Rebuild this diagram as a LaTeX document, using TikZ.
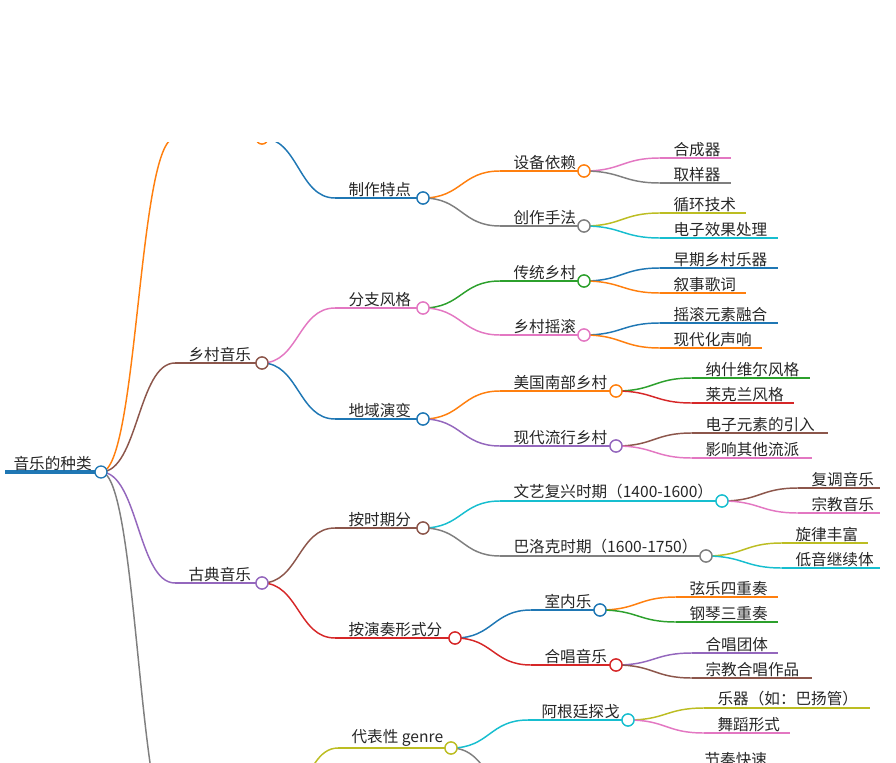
\documentclass[tikz,border=0pt]{standalone}
\usepackage{fontspec}
\setmainfont{Noto Sans CJK SC}
\usetikzlibrary{calc}
\definecolor{cBlue}{HTML}{1F77B4}
\definecolor{cOrange}{HTML}{FF7F0E}
\definecolor{cGreen}{HTML}{2CA02C}
\definecolor{cRed}{HTML}{D62728}
\definecolor{cPurple}{HTML}{9467BD}
\definecolor{cBrown}{HTML}{8C564B}
\definecolor{cPink}{HTML}{E377C2}
\definecolor{cGray}{HTML}{7F7F7F}
\definecolor{cOlive}{HTML}{BCBD22}
\definecolor{cCyan}{HTML}{17BECF}
\tikzset{
  ul/.style = {line width=1.1pt},
  br/.style = {line width=1.1pt},
  lbl/.style = {inner sep=1pt, font=\fontsize{11.7}{13}\selectfont, text=black!85},
  dot/.style = {circle, fill=white, line width=1pt, minimum size=9pt, inner sep=0pt}
}
% inner node: name, x1, x2 (circle), y, colour, text
\newcommand\inode[6]{%
  \coordinate (#1-in) at (#2,#4);
  \draw[ul,#5] (#2,#4) -- (#3,#4);
  \node[lbl,anchor=south west] (#1-t) at (#2+12,#4) {#6};
  \node[dot,draw=#5] (#1) at (#3,#4) {};}
% leaf node: name, x1, x2, y, colour, text
\newcommand\leaf[6]{%
  \coordinate (#1-in) at (#2,#4);
  \draw[ul,#5] (#2,#4) -- (#3,#4);
  \node[lbl,anchor=south west] (#1) at (#2+12,#4) {#6};}
% connector: parent, child, colour
\newcommand\link[3]{%
  \draw[br,#3] let \p1=(#1.center), \p2=(#2-in) in
    (\p1) .. controls ({(\x1+\x2)/2},\y1) and ({(\x1+\x2)/2},\y2) .. (\p2);}

\begin{document}
\begin{tikzpicture}[x=0.75pt,y=-0.75pt]
\useasboundingbox (0,0) rectangle (896,763);
\clip (0,143) rectangle (896,763);

% root
\draw[cBlue,line width=2.6pt] (5,472) -- (101,472);
\node[lbl,anchor=south west] (root-t) at (12,472) {音乐的种类};

% level 1
\inode{elec}{175}{262}{138}{cOrange}{}
\inode{country}{175}{262}{363}{cBrown}{乡村音乐}
\inode{classic}{175}{262}{583}{cPurple}{古典音乐}
\inode{world}{175}{262}{840}{cGray}{}

% level 2
\inode{make}{335}{423}{198}{cBlue}{制作特点}
\inode{branch}{335}{423}{308}{cPink}{分支风格}
\inode{region}{335}{423}{419}{cBlue}{地域演变}
\inode{period}{335}{423}{528}{cBrown}{按时期分}
\inode{form}{335}{455}{638}{cRed}{按演奏形式分}
\inode{genre}{338}{451}{748}{cOlive}{代表性 genre}

% level 3
\inode{device}{500}{584}{171}{cOrange}{设备依赖}
\inode{craft}{500}{584}{226}{cGray}{创作手法}
\inode{trad}{500}{584}{281}{cGreen}{传统乡村}
\inode{rock}{500}{584}{335}{cPink}{乡村摇滚}
\inode{south}{500}{616}{391}{cOrange}{美国南部乡村}
\inode{pop}{500}{616}{446}{cPurple}{现代流行乡村}
\inode{renais}{500}{722}{501}{cCyan}{文艺复兴时期（1400-1600）}
\inode{baroque}{500}{706}{556}{cGray}{巴洛克时期（1600-1750）}
\inode{chamber}{531}{600}{610}{cBlue}{室内乐}
\inode{choir}{531}{616}{665}{cRed}{合唱音乐}
\inode{tango}{528}{628}{720}{cCyan}{阿根廷探戈}
\inode{other}{528}{615}{803}{cGray}{}

% leaves
\leaf{synth}{660}{731}{158}{cPink}{合成器}
\leaf{sampler}{660}{731}{183}{cGray}{取样器}
\leaf{loop}{660}{746}{213}{cOlive}{循环技术}
\leaf{fx}{660}{778}{238}{cCyan}{电子效果处理}
\leaf{early}{660}{778}{268}{cBlue}{早期乡村乐器}
\leaf{lyric}{660}{746}{293}{cOrange}{叙事歌词}
\leaf{fuse}{660}{778}{323}{cBlue}{摇滚元素融合}
\leaf{modern}{660}{762}{348}{cOrange}{现代化声响}
\leaf{nash}{692}{810}{378}{cGreen}{纳什维尔风格}
\leaf{lake}{692}{794}{403}{cRed}{莱克兰风格}
\leaf{etro}{692}{828}{433}{cBrown}{电子元素的引入}
\leaf{infl}{692}{812}{458}{cPink}{影响其他流派}
\leaf{poly}{798}{880}{488}{cBrown}{复调音乐}
\leaf{sacred}{798}{880}{513}{cPink}{宗教音乐}
\leaf{melody}{782}{868}{543}{cOlive}{旋律丰富}
\leaf{bass}{782}{880}{568}{cCyan}{低音继续体}
\leaf{quartet}{676}{778}{597}{cOrange}{弦乐四重奏}
\leaf{trio}{676}{778}{622}{cGreen}{钢琴三重奏}
\leaf{group}{692}{778}{653}{cPurple}{合唱团体}
\leaf{works}{692}{812}{678}{cBrown}{宗教合唱作品}
\leaf{instr}{704}{870}{708}{cOlive}{乐器（如：巴扬管）}
\leaf{dance}{704}{790}{733}{cPink}{舞蹈形式}
\leaf{tempo}{691}{780}{768}{cOlive}{节奏快速}

% connectors
\coordinate (root) at (101,472);
\link{root}{elec}{cOrange}
\link{root}{country}{cBrown}
\link{root}{classic}{cPurple}
\link{root}{world}{cGray}
\node[dot,draw=cBlue] at (root) {};
\link{elec}{make}{cBlue}
\link{country}{branch}{cPink}
\link{country}{region}{cBlue}
\link{classic}{period}{cBrown}
\link{classic}{form}{cRed}
\link{world}{genre}{cOlive}
\link{make}{device}{cOrange}
\link{make}{craft}{cGray}
\link{branch}{trad}{cGreen}
\link{branch}{rock}{cPink}
\link{region}{south}{cOrange}
\link{region}{pop}{cPurple}
\link{period}{renais}{cCyan}
\link{period}{baroque}{cGray}
\link{form}{chamber}{cBlue}
\link{form}{choir}{cRed}
\link{genre}{tango}{cCyan}
\link{genre}{other}{cGray}
\link{device}{synth}{cPink}
\link{device}{sampler}{cGray}
\link{craft}{loop}{cOlive}
\link{craft}{fx}{cCyan}
\link{trad}{early}{cBlue}
\link{trad}{lyric}{cOrange}
\link{rock}{fuse}{cBlue}
\link{rock}{modern}{cOrange}
\link{south}{nash}{cGreen}
\link{south}{lake}{cRed}
\link{pop}{etro}{cBrown}
\link{pop}{infl}{cPink}
\link{renais}{poly}{cBrown}
\link{renais}{sacred}{cPink}
\link{baroque}{melody}{cOlive}
\link{baroque}{bass}{cCyan}
\link{chamber}{quartet}{cOrange}
\link{chamber}{trio}{cGreen}
\link{choir}{group}{cPurple}
\link{choir}{works}{cBrown}
\link{tango}{instr}{cOlive}
\link{tango}{dance}{cPink}
\link{other}{tempo}{cOlive}
% redraw circles on top of connectors
\foreach \n/\c in {elec/cOrange,country/cBrown,classic/cPurple,world/cGray,make/cBlue,branch/cPink,region/cBlue,period/cBrown,form/cRed,genre/cOlive,device/cOrange,craft/cGray,trad/cGreen,rock/cPink,south/cOrange,pop/cPurple,renais/cCyan,baroque/cGray,chamber/cBlue,choir/cRed,tango/cCyan,other/cGray}
  \node[dot,draw=\c] at (\n) {};
\end{tikzpicture}
\end{document}
